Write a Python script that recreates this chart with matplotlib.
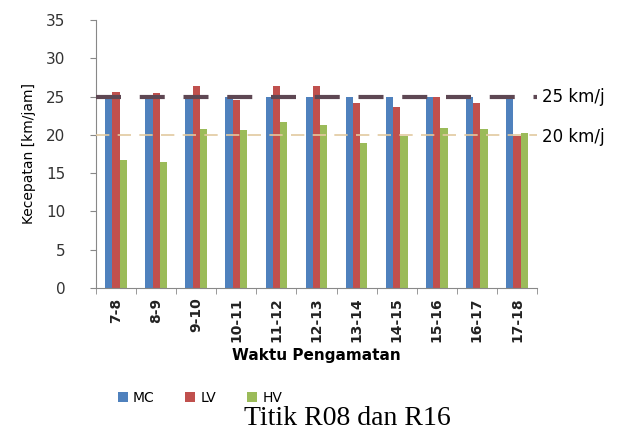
import matplotlib
matplotlib.use("Agg")
import matplotlib.pyplot as plt
import numpy as np

categories = ["7-8", "8-9", "9-10", "10-11", "11-12", "12-13", "13-14", "14-15", "15-16", "16-17", "17-18"]
mc = [25.0, 25.0, 25.0, 25.0, 25.0, 25.0, 25.0, 25.0, 25.0, 25.0, 25.0]
lv = [25.6, 25.5, 26.4, 24.6, 26.4, 26.4, 24.1, 23.6, 25.0, 24.1, 19.8]
hv = [16.7, 16.4, 20.7, 20.6, 21.7, 21.3, 18.9, 19.8, 20.9, 20.7, 20.3]
limit_hi = 25
limit_lo = 20
yticks = [0, 5, 10, 15, 20, 25, 30, 35]

fig = plt.figure(figsize=(6.32, 4.32), dpi=100)
ax = fig.add_axes([96/632, 1-288/432, (537-96)/632, (288-20)/432])

x = np.arange(len(categories))
w = 0.18
ax.bar(x - w, mc, w, color="#4f81bd", label="MC", zorder=2)
ax.bar(x, lv, w, color="#c0504d", label="LV", zorder=2)
ax.bar(x + w, hv, w, color="#9bbb59", label="HV", zorder=2)

ax.axhline(limit_hi, color="#5e4753", lw=3, dashes=(6, 4.5), zorder=3)
ax.axhline(limit_lo, color="#e2c9a0", lw=1.2, dashes=(8, 5), zorder=3)

ax.set_xlim(-0.5, len(categories) - 0.5)
ax.set_ylim(0, 35)
ax.set_yticks(yticks)
ax.set_yticklabels([str(v) for v in yticks], fontsize=11, color="#333333")
ax.set_xticks(x)
ax.set_xticklabels(categories, rotation=90, fontsize=10, fontweight="bold", color="#222222")
ax.set_xticks(np.arange(-0.5, len(categories)), minor=True)
ax.tick_params(axis="x", which="major", length=0, pad=7)
ax.tick_params(axis="x", which="minor", length=4, color="#888888")
ax.tick_params(axis="y", length=4, color="#888888", pad=18)

for s in ["top", "right"]:
    ax.spines[s].set_visible(False)
ax.spines["left"].set_color("#888888")
ax.spines["bottom"].set_color("#888888")

ax.set_ylabel("Kecepatan [km/jam]", fontsize=10, labelpad=7)
ax.set_xlabel("Waktu Pengamatan", fontsize=11, fontweight="bold", labelpad=4)

fig.text(542/632, 1-97/432, "25 km/j", fontsize=12, va="center", ha="left")
fig.text(542/632, 1-137/432, "20 km/j", fontsize=12, va="center", ha="left")

fig.legend(loc="center", bbox_to_anchor=(200/632, 1-398/432), ncol=3, frameon=False,
           fontsize=10, handlelength=0.7, handleheight=0.7, columnspacing=2.2, handletextpad=0.4)

fig.text(347/632, 1-425/432, "Titik R08 dan R16", fontsize=20, family="Liberation Serif",
         ha="center", va="baseline")

fig.savefig("out.png", dpi=100)
